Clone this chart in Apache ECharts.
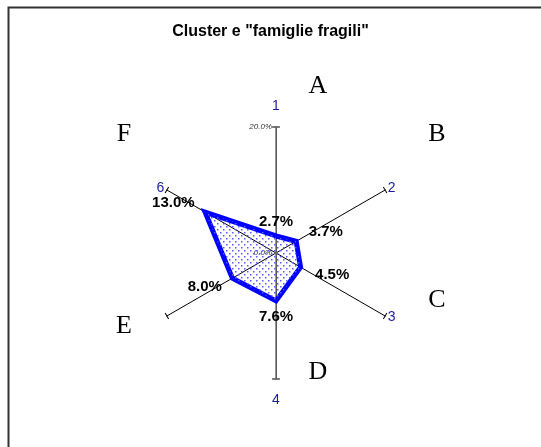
<!DOCTYPE html>
<html>
<head>
<meta charset="utf-8">
<script src="https://cdn.jsdelivr.net/npm/echarts@6/dist/echarts.min.js"></script>
<style>
  html, body { margin: 0; padding: 0; background: #fff; }
  #chart { width: 541px; height: 447px; }
</style>
</head>
<body>
<div id="chart"></div>
<script>
// axes go counterclockwise in echarts radar, so order is 1,6,5,4,3,2
var axisNames = ['1', '6', '', '4', '3', '2'];
var values = [2.7, 13.0, 8.0, 7.6, 4.5, 3.7];
var axisMax = 20;
var sectorLetters = ['A', 'B', 'C', 'D', 'E', 'F'];
var letterPos = [[318, 86], [437, 134], [437, 300], [318, 372], [124, 326], [124, 134]];
// where each value label sits around its point (same order as values)
var labelSide = ['top', 'upleft', 'downleft', 'bottom', 'downright', 'upright'];
var sideStyle = {
  top:       { position: 'top',    distance: 6,  offset: [0, 0] },
  bottom:    { position: 'bottom', distance: 8,  offset: [0, 0] },
  upleft:    { position: 'left',   distance: 10, offset: [0, -9] },
  downleft:  { position: 'left',   distance: 10, offset: [0, 9] },
  upright:   { position: 'right',  distance: 12, offset: [0, -9] },
  downright: { position: 'right',  distance: 14, offset: [0, 8] }
};

var center = [276, 253];
var radius = 126;

// dotted fill pattern, transparent so the axes show through
var pat = document.createElement('canvas');
pat.width = 6; pat.height = 6;
var pc = pat.getContext('2d');
pc.fillStyle = '#5a5aff';
pc.fillRect(1, 1, 1.5, 1.5);
pc.fillRect(4, 4, 1.5, 1.5);

// names of the vertical axes are drawn by the grey radar, with a bigger gap
var indicators = [];
for (var i = 0; i < axisNames.length; i++) {
  var vert = (i === 0 || i === 3);
  indicators.push({ name: vert ? '' : axisNames[i], min: 0, max: axisMax });
}

var chart = echarts.init(document.getElementById('chart'));

var series = [{
  type: 'radar',
  radarIndex: 0,
  symbol: 'none',
  silent: true,
  lineStyle: { color: '#0000ff', width: 5, join: 'miter' },
  areaStyle: { color: { image: pat, repeat: 'repeat' }, opacity: 1 },
  data: [{ value: values }],
  z: 5
}];

// one invisible series per label side so each value label sits on its own side
Object.keys(sideStyle).forEach(function (side) {
  var s = sideStyle[side];
  series.push({
    type: 'radar',
    radarIndex: 0,
    symbol: 'circle',
    symbolSize: 1,
    silent: true,
    itemStyle: { color: 'rgba(0,0,0,0)' },
    lineStyle: { color: 'rgba(0,0,0,0)', width: 0 },
    label: {
      show: true,
      position: s.position,
      distance: s.distance,
      offset: s.offset,
      color: '#000',
      fontFamily: 'Arial',
      fontWeight: 'bold',
      fontSize: 15,
      formatter: function (p) {
        if (labelSide[p.dimensionIndex] !== side) return '';
        return p.value.toFixed(1) + '%';
      }
    },
    data: [{ value: values }],
    z: 6
  });
});

var graphic = [{
  type: 'rect',
  left: 6, top: 5,
  shape: { width: 600, height: 500 },
  style: { fill: 'none', stroke: '#333', lineWidth: 2 }
}];
for (var k = 0; k < sectorLetters.length; k++) {
  graphic.push({
    type: 'text',
    x: letterPos[k][0], y: letterPos[k][1],
    style: {
      text: sectorLetters[k],
      font: '26px "Liberation Serif", "DejaVu Serif", serif',
      fill: '#000',
      align: 'center',
      verticalAlign: 'middle'
    }
  });
}

var nameStyle = { color: '#1c1c9c', fontFamily: 'Arial', fontSize: 14 };

chart.setOption({
  animation: false,
  backgroundColor: '#fff',
  title: {
    text: 'Cluster e "famiglie fragili"',
    left: 'center',
    top: 19,
    textStyle: { fontFamily: 'Arial', fontSize: 16, fontWeight: 'bold', color: '#000' }
  },
  radar: [{
    // main six axes
    center: center,
    radius: radius,
    startAngle: 90,
    shape: 'polygon',
    splitNumber: 1,
    indicator: indicators,
    axisName: nameStyle,
    nameGap: 3,
    axisLine: {
      show: true,
      symbol: ['none', 'rect'],
      symbolSize: [7, 1],
      lineStyle: { color: '#000', width: 1 }
    },
    splitLine: { show: false },
    splitArea: { show: false },
    axisTick: { show: false },
    axisLabel: { show: false }
  }, {
    // vertical axis drawn grey on top
    center: center,
    radius: radius,
    startAngle: 90,
    splitNumber: 1,
    indicator: [{ name: axisNames[0], min: 0, max: axisMax }, { name: axisNames[3], min: 0, max: axisMax }],
    axisName: nameStyle,
    nameGap: 14,
    axisLine: {
      show: true,
      symbol: ['none', 'rect'],
      symbolSize: [8, 1.5],
      lineStyle: { color: '#777', width: 1.5 }
    },
    splitLine: { show: false },
    splitArea: { show: false },
    axisTick: { show: false },
    axisLabel: { show: false }
  }, {
    // scale labels on axis 1 only
    center: center,
    radius: radius,
    startAngle: 90,
    splitNumber: 1,
    indicator: [{ name: '', min: 0, max: axisMax }],
    axisLine: { show: false },
    splitLine: { show: false },
    splitArea: { show: false },
    axisTick: { show: false },
    axisLabel: {
      show: true,
      showMinLabel: true,
      showMaxLabel: true,
      hideOverlap: false,
      color: '#333',
      fontFamily: 'Arial',
      fontStyle: 'italic',
      fontSize: 8,
      margin: 4,
      formatter: function (v) { return v.toFixed(1) + '%'; }
    }
  }],
  graphic: graphic,
  series: series
});
</script>
</body>
</html>
